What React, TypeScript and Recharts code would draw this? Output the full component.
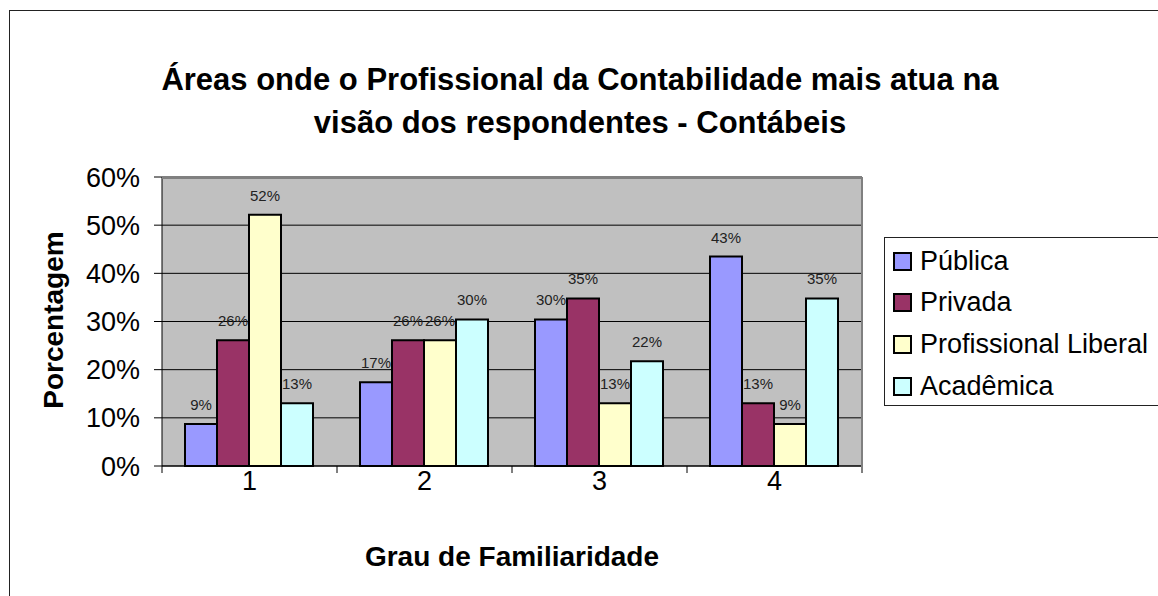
import { BarChart, Bar, XAxis, YAxis, CartesianGrid, LabelList, Label } from 'recharts';

const categories = ['1', '2', '3', '4'];
const publica = [8.7, 17.39, 30.43, 43.48];
const privada = [26.09, 26.09, 34.78, 13.04];
const liberal = [52.17, 26.09, 13.04, 8.7];
const academica = [13.04, 30.43, 21.74, 34.78];
const yTicks = [0, 10, 20, 30, 40, 50, 60];

const series = [
    { key: 'publica', name: 'Pública', color: '#9999FF', values: publica },
    { key: 'privada', name: 'Privada', color: '#993366', values: privada },
    { key: 'liberal', name: 'Profissional Liberal', color: '#FFFFCC', values: liberal },
    { key: 'academica', name: 'Acadêmica', color: '#CCFFFF', values: academica }
];

const data = categories.map((cat, i) => {
    const row: Record<string, any> = { cat };
    series.forEach(s => { row[s.key] = s.values[i]; });
    return row;
});

const font = '"Liberation Sans", Arial, sans-serif';
const plotWidth = 700;
const bandWidth = plotWidth / categories.length;

const XTick = (props: any) => {
    const { x, y, payload, index } = props;
    const left = x - bandWidth / 2;
    return (
        <g>
            <line x1={left} x2={left} y1={y} y2={y + 7} stroke="#000" strokeWidth={1} />
            {index === categories.length - 1 && (
                <line x1={x + bandWidth / 2} x2={x + bandWidth / 2} y1={y} y2={y + 7} stroke="#000" strokeWidth={1} />
            )}
            <text x={x} y={y + 24} textAnchor="middle" fontSize={27} fontFamily={font} fill="#000">{payload.value}</text>
        </g>
    );
};

export default function App() {
    return (
        <div style={{ position: 'absolute', left: 0, top: 0, width: 1158, height: 596, overflow: 'hidden', background: '#fff', fontFamily: font }}>
            <div style={{ position: 'absolute', left: 9, top: 10, width: 1300, height: 700, border: '1px solid #222' }} />
            <div style={{ position: 'absolute', left: 0, top: 58, width: 1160, textAlign: 'center', fontSize: 31, fontWeight: 'bold', lineHeight: '43px', color: '#000' }}>
                Áreas onde o Profissional da Contabilidade mais atua na<br />visão dos respondentes - Contábeis
            </div>
            <div style={{ position: 'absolute', left: 0, top: 0 }}>
                <BarChart width={1158} height={596} data={data} margin={{ top: 177, right: 296, left: 0, bottom: 0 }} barCategoryGap={23} barGap={0}>
                    <CartesianGrid vertical={false} stroke="#000" fill="#C0C0C0" fillOpacity={1} />
                    <XAxis dataKey="cat" height={130} axisLine={{ stroke: '#000' }} tickLine={false} tickSize={0} tickMargin={0} tick={<XTick />} interval={0}>
                        <Label content={() => (
                            <text x={512} y={566} textAnchor="middle" fontSize={28} fontWeight="bold" fontFamily={font} fill="#000">Grau de Familiaridade</text>
                        )} />
                    </XAxis>
                    <YAxis width={162} domain={[0, 60]} ticks={yTicks} tickFormatter={(v: number) => v + '%'} axisLine={{ stroke: '#000' }} tickLine={{ stroke: '#000' }} tickSize={8} tickMargin={14} tick={{ fontSize: 27, fontFamily: font, fill: '#000' }} interval={0}>
                        <Label content={() => (
                            <text x={63} y={320} transform="rotate(-90 63 320)" textAnchor="middle" fontSize={28} fontWeight="bold" fontFamily={font} fill="#000">Porcentagem</text>
                        )} />
                    </YAxis>
                    {series.map(s => (
                        <Bar key={s.key} dataKey={s.key} name={s.name} fill={s.color} stroke="#000" strokeWidth={2} isAnimationActive={false}>
                            <LabelList dataKey={s.key} position="top" offset={14} formatter={(v: any) => Math.round(Number(v)) + '%'} style={{ fontSize: 15, fontFamily: font, fill: '#222' }} />
                        </Bar>
                    ))}
                </BarChart>
            </div>
            <div style={{ position: 'absolute', left: 162, top: 177, width: 699, height: 288, borderTop: '2px solid #808080', borderRight: '2px solid #808080', pointerEvents: 'none' }} />
            <div style={{ position: 'absolute', left: 884, top: 237, width: 400, height: 167, border: '1px solid #222', background: '#fff' }}>
                {series.map((s, i) => (
                    <div key={s.key} style={{ position: 'absolute', left: 8, top: 6 + i * 41.7, height: 34, display: 'flex', alignItems: 'center', fontSize: 27, color: '#000', whiteSpace: 'nowrap' }}>
                        <span style={{ display: 'inline-block', width: 15, height: 15, background: s.color, border: '2px solid #000', marginRight: 8 }} />
                        {s.name}
                    </div>
                ))}
            </div>
        </div>
    );
}
